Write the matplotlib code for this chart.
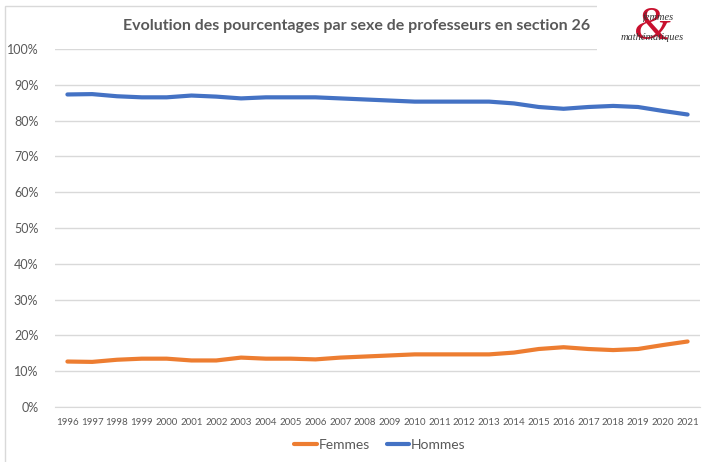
import matplotlib
matplotlib.use("Agg")
import matplotlib.pyplot as plt
from matplotlib.patches import Rectangle
from matplotlib.ticker import PercentFormatter

years = [str(y) for y in range(1996, 2022)]
hommes = [87.3, 87.4, 86.8, 86.5, 86.5, 87.0, 86.7, 86.2, 86.5, 86.5, 86.5, 86.2,
          85.9, 85.6, 85.3, 85.3, 85.3, 85.3, 84.8, 83.8, 83.3, 83.8, 84.1, 83.8,
          82.7, 81.7]
femmes = [12.7, 12.6, 13.2, 13.5, 13.5, 13.0, 13.0, 13.8, 13.5, 13.5, 13.3, 13.8,
          14.1, 14.4, 14.7, 14.7, 14.7, 14.7, 15.2, 16.2, 16.7, 16.2, 15.9, 16.2,
          17.3, 18.3]
yticks = [0, 10, 20, 30, 40, 50, 60, 70, 80, 90, 100]

W, H = 706, 462
fig = plt.figure(figsize=(W / 100, H / 100), dpi=100)
fig.patch.set_facecolor("white")

font = ["Lato", "DejaVu Sans"]
grey = "#595959"

# chart border
fig.add_artist(Rectangle((5 / W, -0.01), 1.02, (H - 6) / H + 0.01, transform=fig.transFigure,
                         fill=False, edgecolor="#d9d9d9", lw=1))

ax = fig.add_axes([55 / W, (H - 407) / H, (700 - 55) / W, (407 - 49) / H])
x = range(len(years))
ax.plot(x, femmes, color="#ED7D31", lw=3, solid_capstyle="round", solid_joinstyle="round", label="Femmes")
ax.plot(x, hommes, color="#4472C4", lw=3, solid_capstyle="round", solid_joinstyle="round", label="Hommes")

ax.set_xlim(-0.5, len(years) - 0.5)
ax.set_ylim(0, 100)
ax.set_yticks(yticks)
ax.yaxis.set_major_formatter(PercentFormatter(decimals=0))
ax.set_xticks(list(x))
ax.set_xticklabels(years)
ax.grid(axis="y", color="#d9d9d9", lw=1)
ax.set_axisbelow(True)
for s in ["top", "right", "left"]:
    ax.spines[s].set_visible(False)
ax.spines["bottom"].set_color("#d9d9d9")
ax.tick_params(axis="both", length=0, colors=grey)
ax.tick_params(axis="y", pad=12)
ax.tick_params(axis="x", pad=8)
for lab in ax.get_yticklabels():
    lab.set_family(font)
    lab.set_fontsize(9)
for lab in ax.get_xticklabels():
    lab.set_family(font)
    lab.set_fontsize(7)

fig.text(357 / W, 1 - 26 / H, "Evolution des pourcentages par sexe de professeurs en section 26",
         ha="center", va="center", fontsize=11.5, fontweight="bold", color=grey, family=font)

leg = fig.legend(loc="center", bbox_to_anchor=(380 / W, 1 - 445 / H), ncol=2, frameon=False,
                 handlelength=1.6, handletextpad=0.15, columnspacing=1.2,
                 prop={"family": font, "size": 10})
for t in leg.get_texts():
    t.set_color(grey)

# logo
fig.add_artist(Rectangle((597 / W, 1 - 55 / H), 0.2, 0.2, transform=fig.transFigure,
                         facecolor="white", edgecolor="none"))
fig.text(652 / W, 1 - 28 / H, "&", ha="center", va="center", fontsize=34, color="#C8102E",
         family="Liberation Serif", style="italic")
fig.text(658 / W, 1 - 17 / H, "femmes", ha="center", va="center", fontsize=7.5, color="#333333",
         family="Liberation Serif", style="italic")
fig.text(652 / W, 1 - 38 / H, "mathématiques", ha="center", va="center", fontsize=7.5, color="#333333",
         family="Liberation Serif", style="italic")

fig.savefig("out.png", dpi=100)
